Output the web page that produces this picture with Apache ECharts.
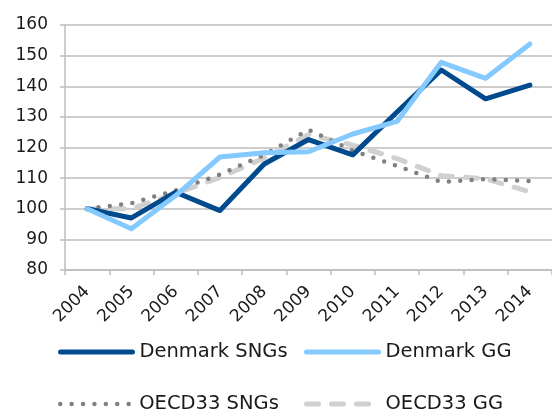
<!DOCTYPE html>
<html>
<head>
<meta charset="utf-8">
<script src="https://cdn.jsdelivr.net/npm/echarts@6/dist/echarts.min.js"></script>
<style>
html,body{margin:0;padding:0;background:#fff;}
#chart{width:552px;height:417px;}
</style>
</head>
<body>
<div id="chart"></div>
<script>
const years = ['2004','2005','2006','2007','2008','2009','2010','2011','2012','2013','2014'];
const denmarkSNGs = [100, 97, 105.4, 99.4, 114.6, 122.6, 117.6, 131.6, 145.3, 135.9, 140.4];
const denmarkGG   = [100, 93.5, 104.3, 116.9, 118.3, 118.6, 124.4, 128.5, 147.8, 142.6, 153.8];
const oecdSNGs    = [100, 101.8, 106.0, 111.2, 117.6, 125.8, 119.0, 114.0, 108.7, 109.7, 109.0];
const oecdGG      = [100, 100.0, 105.0, 110.2, 116.6, 124.2, 120.8, 116.4, 110.8, 109.8, 105.5];
const yTicks = {min: 80, max: 160, interval: 10};

const FONT = 'DejaVu Sans';
const chart = echarts.init(document.getElementById('chart'), null, {renderer: 'canvas'});

function legendAt(name, left, top, width) {
  return {
    data: [name], left: left, top: top, orient: 'horizontal',
    itemWidth: 72, itemHeight: 20, itemGap: 0, padding: 0,
    selectedMode: false,
    itemStyle: {opacity: 0, borderWidth: 0},
    lineStyle: {width: width, cap: 'round', opacity: 1},
    textStyle: {fontFamily: FONT, fontSize: 19.5, color: '#1a1a1a', padding: [0, 0, 0, 2]}
  };
}

chart.setOption({
  animation: false,
  backgroundColor: '#ffffff',
  grid: {left: 65, top: 25, width: 490, height: 245, containLabel: false},
  legend: [
    legendAt('Denmark SNGs', 58, 342, 5),
    legendAt('Denmark GG', 304, 342, 5),
    legendAt('OECD33 SNGs', 58, 394, 4.5),
    legendAt('OECD33 GG', 304, 394, 5)
  ],
  xAxis: {
    type: 'category', data: years, boundaryGap: true,
    axisLine: {show: true, lineStyle: {color: '#BDBDBD', width: 1.5}},
    axisTick: {show: true, length: 5, lineStyle: {color: '#BDBDBD', width: 1.5}},
    axisLabel: {rotate: 45, margin: 19, fontFamily: FONT, fontSize: 17, color: '#1a1a1a', interval: 0},
    splitLine: {show: false}
  },
  yAxis: {
    type: 'value', min: yTicks.min, max: yTicks.max, interval: yTicks.interval,
    axisLine: {show: true, lineStyle: {color: '#BDBDBD', width: 1.5}},
    axisTick: {show: true, length: 5, lineStyle: {color: '#BDBDBD', width: 1.5}},
    axisLabel: {margin: 17, fontFamily: FONT, fontSize: 17, color: '#1a1a1a'},
    splitLine: {show: true, lineStyle: {color: '#BDBDBD', width: 1.5}}
  },
  series: [
    {name: 'Denmark SNGs', type: 'line', data: denmarkSNGs, symbol: 'none', z: 4,
     lineStyle: {color: '#004A8D', width: 5, cap: 'round', join: 'round'}, itemStyle: {color: '#004A8D'}},
    {name: 'Denmark GG', type: 'line', data: denmarkGG, symbol: 'none', z: 5,
     lineStyle: {color: '#84CAFF', width: 5, cap: 'round', join: 'round'}, itemStyle: {color: '#84CAFF'}},
    {name: 'OECD33 SNGs', type: 'line', data: oecdSNGs, symbol: 'none', z: 3,
     lineStyle: {color: '#808080', width: 4.5, type: [0, 11.4], cap: 'round', join: 'round'}, itemStyle: {color: '#808080'}},
    {name: 'OECD33 GG', type: 'line', data: oecdGG, symbol: 'none', z: 2,
     lineStyle: {color: '#D0D0D0', width: 5, type: [12, 13], cap: 'round', join: 'round'}, itemStyle: {color: '#D0D0D0'}}
  ]
});
</script>
</body>
</html>
